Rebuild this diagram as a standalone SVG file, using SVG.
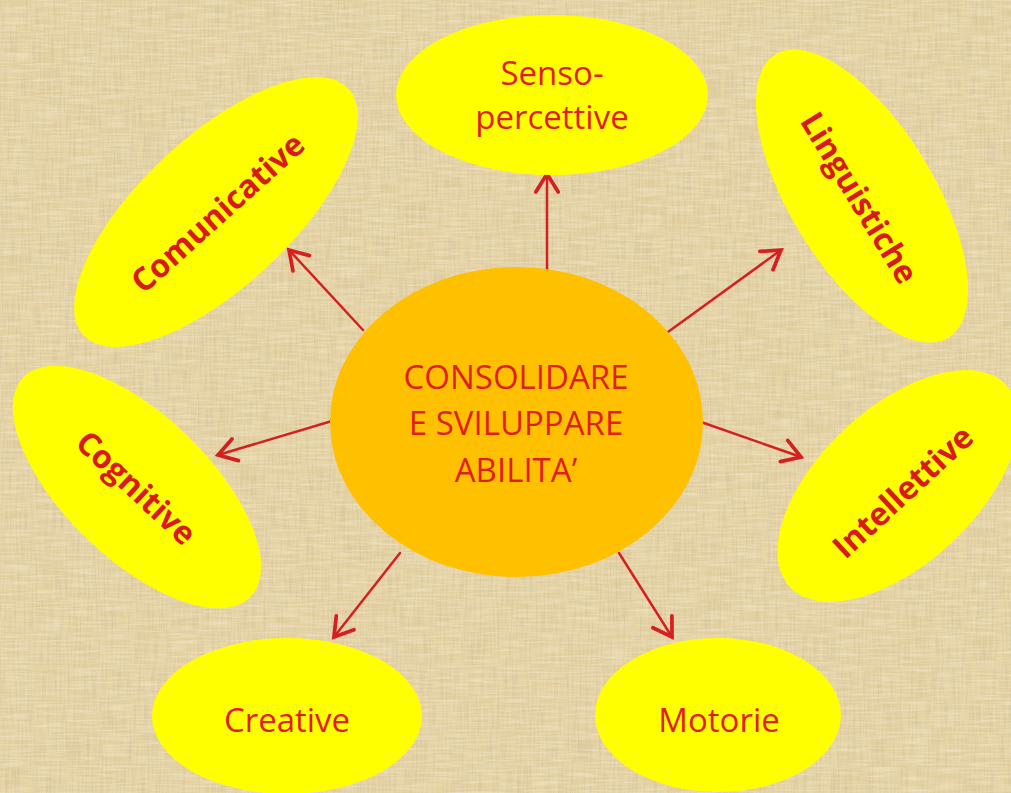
<svg xmlns="http://www.w3.org/2000/svg" width="1011" height="793" viewBox="0 0 1011 793">
  <defs>
    <style>
      .bg { fill: #e5d2a2; }
      .node { fill: #ffff00; }
      .center { fill: #ffc000; }
      .lbl { font-family: "Open Sans", "Liberation Sans", sans-serif; font-size: 33px; fill: #e01e1e; text-anchor: middle; }
      .blbl { font-family: "Open Sans", "Liberation Sans", sans-serif; font-size: 32px; font-weight: bold; fill: #d81a1a; text-anchor: middle; }
      .conn { stroke: #d42020; stroke-width: 2.5; fill: none; stroke-linecap: round; marker-end: url(#arrow); }
    </style>
    <marker id="arrow" markerUnits="userSpaceOnUse" markerWidth="30" markerHeight="30" viewBox="-16 -10 20 20" refX="0" refY="0" orient="auto">
      <path d="M -12 -7.5 L 0 0 L -12 7.5" fill="none" stroke="#d42020" stroke-width="2.5" stroke-linecap="round" stroke-linejoin="miter"/>
    </marker>
    <filter id="texV" x="0" y="0" width="100%" height="100%">
      <feTurbulence type="fractalNoise" baseFrequency="0.5 0.03" numOctaves="2" seed="7"/>
      <feColorMatrix type="matrix" values="0 0 0 0 0.55  0 0 0 0 0.45  0 0 0 0 0.28  0 0 0 0.9 -0.35"/>
    </filter>
    <filter id="texH" x="0" y="0" width="100%" height="100%">
      <feTurbulence type="fractalNoise" baseFrequency="0.03 0.5" numOctaves="2" seed="11"/>
      <feColorMatrix type="matrix" values="0 0 0 0 0.98  0 0 0 0 0.94  0 0 0 0 0.82  0 0 0 0.8 -0.3"/>
    </filter>
  </defs>

  <g id="background">
    <rect class="bg" x="0" y="0" width="1011" height="793"/>
    <rect x="0" y="0" width="1011" height="793" filter="url(#texV)"/>
    <rect x="0" y="0" width="1011" height="793" filter="url(#texH)"/>
  </g>

  <g id="connectors">
    <line class="conn" x1="547" y1="273" x2="547" y2="174"/>
    <line class="conn" x1="363" y1="330" x2="289" y2="250"/>
    <line class="conn" x1="668" y1="332" x2="781" y2="250"/>
    <line class="conn" x1="332" y1="421" x2="218" y2="455"/>
    <line class="conn" x1="701" y1="422" x2="801" y2="457"/>
    <line class="conn" x1="400" y1="553" x2="334" y2="637"/>
    <line class="conn" x1="619" y1="553" x2="672" y2="637"/>
  </g>

  <g id="node-senso">
    <ellipse class="node" cx="552" cy="95" rx="156" ry="80"/>
    <text class="lbl" x="552" y="85">Senso-</text>
    <text class="lbl" x="552" y="129">percettive</text>
  </g>

  <g id="node-comunicative">
    <ellipse class="node" cx="0" cy="0" rx="181" ry="75" transform="translate(216 212) rotate(-43)"/>
    <text class="blbl" x="0" y="11" transform="translate(218 213) rotate(-42)">Comunicative</text>
  </g>

  <g id="node-linguistiche">
    <ellipse class="node" cx="0" cy="0" rx="166" ry="72" transform="translate(862 196) rotate(58.6)"/>
    <text class="blbl" x="0" y="11" transform="translate(859 198) rotate(58.6)">Linguistiche</text>
  </g>

  <g id="node-cognitive">
    <ellipse class="node" cx="0" cy="0" rx="158" ry="72" transform="translate(137 487) rotate(44)"/>
    <text class="blbl" x="0" y="11" transform="translate(136 488) rotate(43)">Cognitive</text>
  </g>

  <g id="node-intellettive">
    <ellipse class="node" cx="0" cy="0" rx="148" ry="78" transform="translate(898 486) rotate(-43)"/>
    <text class="blbl" x="0" y="11" transform="translate(903 492) rotate(-42.7)">Intellettive</text>
  </g>

  <g id="node-creative">
    <ellipse class="node" cx="287" cy="716" rx="135" ry="78"/>
    <text class="lbl" x="287" y="732">Creative</text>
  </g>

  <g id="node-motorie">
    <ellipse class="node" cx="718" cy="715" rx="123" ry="77"/>
    <text class="lbl" x="719" y="732">Motorie</text>
  </g>

  <g id="node-center">
    <ellipse class="center" cx="516.5" cy="422" rx="186.5" ry="155"/>
    <text class="lbl" x="516" y="389">CONSOLIDARE</text>
    <text class="lbl" x="516" y="435">E SVILUPPARE</text>
    <text class="lbl" x="516" y="482">ABILITA’</text>
  </g>
</svg>
